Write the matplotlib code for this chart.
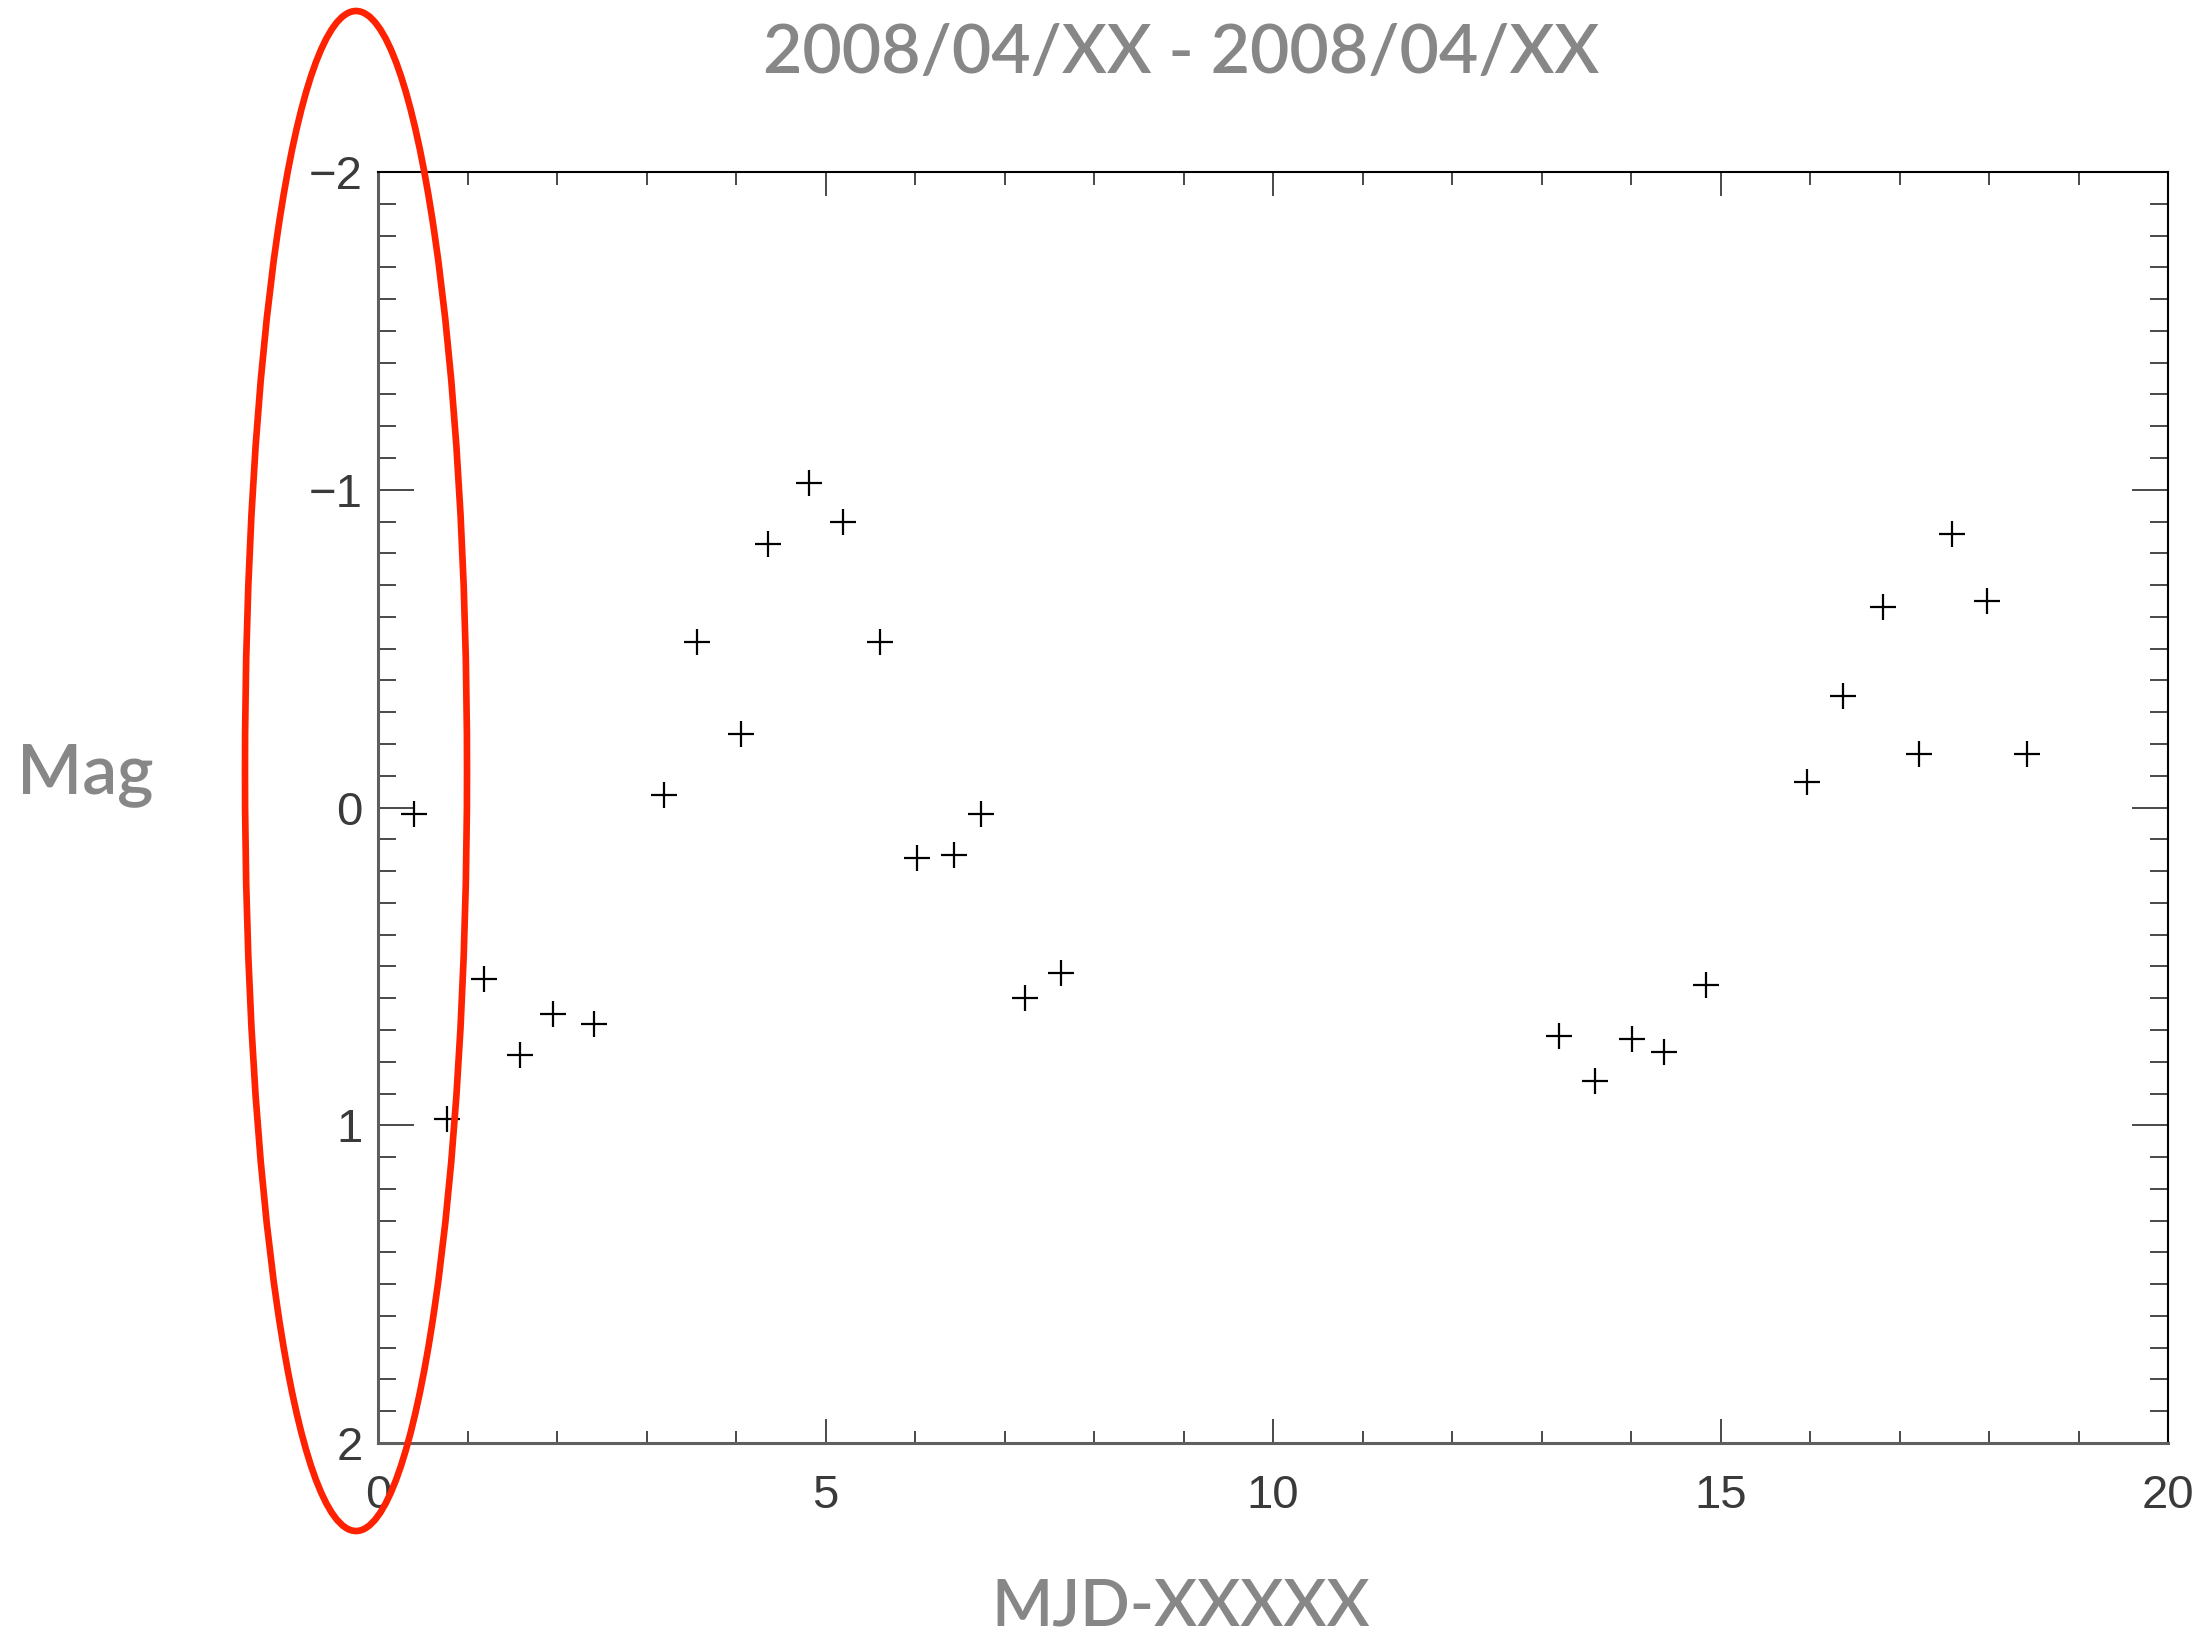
import matplotlib
matplotlib.use('Agg')
import matplotlib.pyplot as plt
from matplotlib.patches import Ellipse
from matplotlib.ticker import MultipleLocator

# Данные: MJD (смещённый) и звёздная величина
mjd = [0.40, 0.77, 1.18, 1.59, 1.95, 2.41, 3.20, 3.56, 4.05, 4.36,
       4.81, 5.20, 5.61, 6.02, 6.44, 6.74, 7.23, 7.63,
       13.19, 13.60, 14.01, 14.37, 14.84, 15.96, 16.37, 16.81,
       17.22, 17.58, 17.98, 18.42]
mag = [0.02, 0.98, 0.54, 0.78, 0.65, 0.68, -0.04, -0.52, -0.23, -0.83,
       -1.02, -0.90, -0.52, 0.16, 0.15, 0.02, 0.60, 0.52,
       0.72, 0.86, 0.73, 0.77, 0.56, -0.08, -0.35, -0.63,
       -0.17, -0.86, -0.65, -0.17]

title = '2008/04/XX - 2008/04/XX'
xlabel = 'MJD-XXXXX'
ylabel = 'Mag'

label_color = '#878787'
tick_color = '#3a3a3a'

fig = plt.figure(figsize=(22.11, 16.43), dpi=100)
ax = fig.add_axes([0.171, 0.1217, 0.8096, 0.7736])

ax.plot(mjd, mag, '+', color='black', markersize=19, mew=1.6)

ax.set_xlim(0, 20)
ax.set_ylim(2, -2)
ax.xaxis.set_major_locator(MultipleLocator(5))
ax.xaxis.set_minor_locator(MultipleLocator(1))
ax.yaxis.set_major_locator(MultipleLocator(1))
ax.yaxis.set_minor_locator(MultipleLocator(0.1))

ax.tick_params(which='both', direction='in', top=True, right=True,
               color=tick_color, width=1.3)
ax.tick_params(axis='x', which='major', length=17, pad=22)
ax.tick_params(axis='x', which='minor', length=9)
ax.tick_params(axis='y', which='major', length=26, pad=11)
ax.tick_params(axis='y', which='minor', length=13)

for lab in ax.get_xticklabels() + ax.get_yticklabels():
    lab.set_family('Liberation Sans')
    lab.set_fontsize(34)
    lab.set_color(tick_color)

ax.spines['left'].set_color('#5f5f5f')
ax.spines['bottom'].set_color('#5f5f5f')
ax.spines['left'].set_linewidth(2.2)
ax.spines['bottom'].set_linewidth(2.2)
ax.spines['top'].set_linewidth(1.5)
ax.spines['right'].set_linewidth(1.5)

# Подписи
fig.text(0.534, 0.967, title, ha='center', va='center', fontsize=49,
         color=label_color, family='Lato', weight='semibold')
fig.text(0.534, 0.022, xlabel, ha='center', va='center', fontsize=47,
         color=label_color, family='Lato', weight='semibold')
fig.text(0.0384, 0.528, ylabel, ha='center', va='center', fontsize=50,
         color=label_color, family='Lato', weight='semibold')

# Красный эллипс вокруг оси Y
ell = Ellipse((356 / 2211, 1 - 771 / 1643), width=222 / 2211, height=1520 / 1643,
              transform=fig.transFigure, fill=False, edgecolor='#ff2200',
              linewidth=4.8)
fig.add_artist(ell)

plt.savefig('out.png', dpi=100)
